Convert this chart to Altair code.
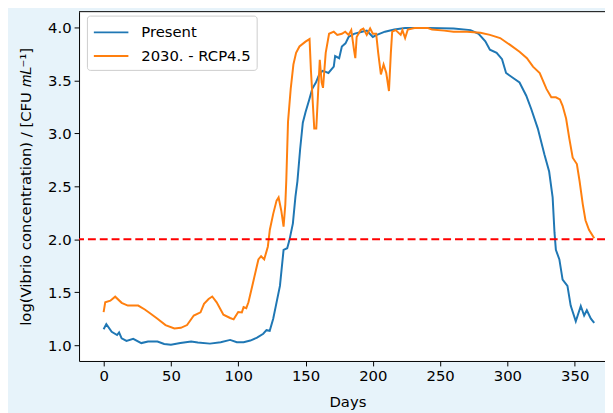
import altair as alt
import pandas as pd

present_days = [0, 2, 6, 10, 11.5, 13.4, 17, 22, 28, 33, 40, 45, 50, 57, 65, 70, 79, 87, 94, 99,
                104, 109, 114, 118.6, 121, 123.4, 126, 128, 131, 133.7, 136.4, 138, 140.6, 142.5, 144,
                146, 148, 150, 152.8, 155, 157.7, 160, 162.6, 165, 167, 171, 172, 175, 177, 179.7,
                182, 186, 192, 195.5, 200, 203, 209, 216, 224, 241, 260, 272.6, 278.6, 283.6, 287,
                292, 296, 299, 304, 309, 314, 317.7, 322.6, 327.5, 331, 333.6, 335, 336, 338.6, 341,
                344.6, 347, 350.8, 354.5, 357, 359, 362, 364.5]
present_vals = [1.151, 1.198, 1.127, 1.096, 1.12, 1.065, 1.04, 1.06, 1.02, 1.035, 1.035, 1.012, 1.005,
                1.02, 1.035, 1.025, 1.015, 1.028, 1.05, 1.028, 1.028, 1.044, 1.071, 1.108, 1.142,
                1.136, 1.25, 1.374, 1.56, 1.9, 1.916, 1.99, 2.148, 2.40, 2.55, 2.85, 3.10, 3.20, 3.32,
                3.42, 3.48, 3.55, 3.59, 3.58, 3.57, 3.63, 3.73, 3.71, 3.82, 3.85, 3.91, 3.94, 3.96,
                3.97, 3.91, 3.93, 3.96, 3.98, 3.995, 3.995, 3.99, 3.975, 3.94, 3.87, 3.79, 3.76, 3.70,
                3.57, 3.525, 3.48, 3.355, 3.23, 3.045, 2.80, 2.64, 2.395, 2.06, 1.90, 1.81, 1.62, 1.56,
                1.374, 1.226, 1.37, 1.28, 1.33, 1.25, 1.21]

rcp_days = [0, 1.2, 5, 8.6, 13.4, 18, 25.7, 30.6, 35, 40, 46, 52.6, 57.4, 62, 67, 72, 74.6, 78, 80.7,
            84, 89, 94, 96.6, 100, 102.7, 104, 106, 107.6, 111, 115, 117, 119.3, 122, 123.5, 126,
            128.5, 130, 132, 133.7, 135, 135.7, 137, 139, 141, 143, 145.5, 150, 153, 154, 156.5, 158,
            159.6, 160.6, 162, 163, 165, 167.5, 171, 173.6, 177, 179.5, 182, 184, 186, 187, 188, 191,
            193, 195.5, 198, 200, 202.5, 204, 206, 208, 210, 212, 213.4, 214.4, 217, 220.7, 222, 224,
            226, 231, 241, 244, 253, 260, 270, 280, 287, 294.6, 302, 309, 314.5, 319, 324, 329, 332.6,
            336, 339, 341, 343.6, 346, 348.5, 351.6, 353.6, 356, 358, 360.6, 364.5]
rcp_vals = [1.313, 1.405, 1.42, 1.458, 1.40, 1.374, 1.374, 1.337, 1.297, 1.25, 1.19, 1.158, 1.164, 1.19,
            1.28, 1.31, 1.39, 1.436, 1.46, 1.405, 1.288, 1.257, 1.244, 1.313, 1.31, 1.36, 1.35, 1.405,
            1.59, 1.81, 1.84, 1.81, 1.93, 2.09, 2.24, 2.365, 2.395, 2.27, 2.12, 2.33, 2.55, 3.108, 3.42,
            3.65, 3.76, 3.82, 3.866, 3.89, 3.60, 3.045, 3.045, 3.45, 3.695, 3.48, 3.43, 3.76, 3.94,
            3.96, 3.93, 3.94, 3.96, 3.93, 3.975, 3.79, 3.71, 3.91, 3.975, 3.99, 3.93, 3.99, 3.94, 3.94,
            3.76, 3.556, 3.65, 3.57, 3.40, 3.76, 3.96, 3.975, 3.93, 3.975, 3.90, 3.98, 3.995, 3.995,
            3.98, 3.97, 3.96, 3.96, 3.95, 3.93, 3.90, 3.835, 3.77, 3.71, 3.63, 3.57, 3.42, 3.34, 3.34,
            3.32, 3.26, 3.14, 2.95, 2.77, 2.71, 2.55, 2.33, 2.18, 2.09, 2.01]

series_names = ["Present", "2030. - RCP4.5"]
series_colors = ["#1f77b4", "#ff7f0e"]
threshold = [2.0]
x_ticks = [0, 50, 100, 150, 200, 250, 300, 350]
y_ticks = [1.0, 1.5, 2.0, 2.5, 3.0, 3.5, 4.0]

df = pd.concat([
    pd.DataFrame({"day": present_days, "value": present_vals, "series": series_names[0]}),
    pd.DataFrame({"day": rcp_days, "value": rcp_vals, "series": series_names[1]}),
], ignore_index=True)
thr_df = pd.DataFrame({"y": threshold})

font = "DejaVu Sans"

x_enc = alt.X("day:Q",
              scale=alt.Scale(domain=[-18.25, 372.5], nice=False, zero=False),
              axis=alt.Axis(values=x_ticks, title="Days", titleX=272, titlePadding=11))
y_enc = alt.Y("value:Q",
              scale=alt.Scale(domain=[0.851, 4.149], nice=False, zero=False),
              axis=alt.Axis(values=y_ticks, format=".1f",
                            title="log(Vibrio concentration) / [CFU 𝑚𝐿⁻¹]",
                            titlePadding=14))
color_enc = alt.Color("series:N",
                      scale=alt.Scale(domain=series_names, range=series_colors),
                      legend=alt.Legend(title=None, orient="none", legendX=8, legendY=4))

base = alt.Chart(df)
line_present = base.transform_filter(alt.datum.series == series_names[0]).mark_line(
    strokeWidth=2).encode(x=x_enc, y=y_enc, color=color_enc)
line_rcp = base.transform_filter(alt.datum.series == series_names[1]).mark_line(
    strokeWidth=2).encode(x=x_enc, y=y_enc, color=color_enc)

thr = alt.Chart(thr_df).mark_rule(color="#ff0000", strokeDash=[8, 4], strokeWidth=2).encode(
    y=alt.Y("y:Q"))

top_spine = alt.Chart(thr_df).mark_rule(color="black", strokeWidth=1).encode(
    y=alt.value(0))

chart = alt.layer(line_present, line_rcp, thr, top_spine).properties(
    width=533, height=354,
    autosize=alt.AutoSizeParams(type="none"),
    padding={"left": 72, "top": 1, "right": 0, "bottom": 50},
    background="#e7f3fa",
).configure_view(
    fill="white", strokeWidth=0
).configure_axis(
    labelFont=font, titleFont=font, labelFontSize=15, titleFontSize=15,
    titleFontWeight="normal", labelColor="black", titleColor="black",
    tickColor="black", domainColor="black", tickSize=5, tickWidth=1, domainWidth=1,
    labelPadding=3, grid=False
).configure_legend(
    labelFont=font, labelFontSize=15, labelColor="black",
    symbolType="M-1,0L2.5,0", symbolSize=400, symbolStrokeWidth=2,
    labelOffset=27, rowPadding=5, padding=6,
    strokeColor="#cccccc", fillColor="white", cornerRadius=3
)

chart.save("out.html", embed_options={"renderer": "svg", "actions": False})
